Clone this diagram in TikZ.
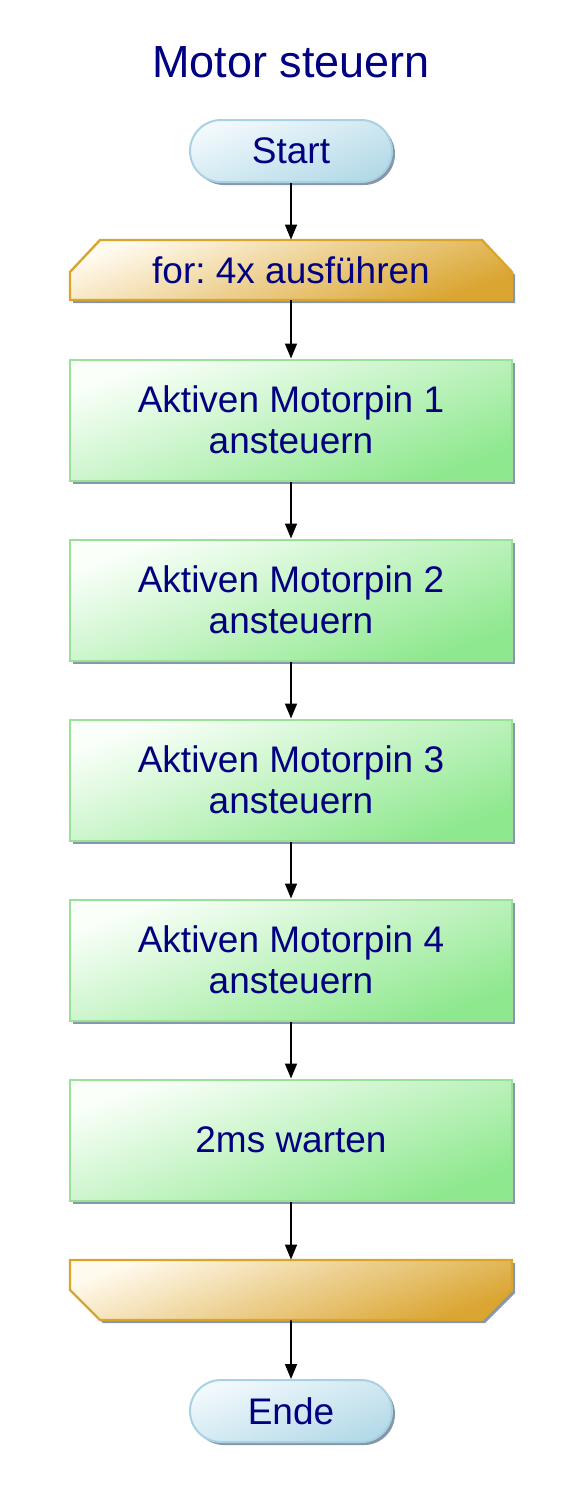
\documentclass[tikz,border=0pt]{standalone}
\usepackage{fontspec}
\setmainfont{Liberation Sans}
\usetikzlibrary{shapes.misc,shadows,arrows.meta}
\frenchspacing

\definecolor{textblue}{HTML}{000080}
\definecolor{shadowcol}{HTML}{8796AA}
\definecolor{termline}{HTML}{A8D2E2}
\definecolor{termlight}{HTML}{F2F9FC}
\definecolor{termdark}{HTML}{B4DAE8}
\definecolor{loopline}{HTML}{D9A52A}
\definecolor{looplight}{HTML}{FFFAEE}
\definecolor{loopdark}{HTML}{DAA530}
\definecolor{procline}{HTML}{98E298}
\definecolor{proclight}{HTML}{FAFFFA}
\definecolor{procdark}{HTML}{8EE88E}

\tikzset{
  boxshadow/.style={drop shadow={shadow xshift=1.5pt,shadow yshift=-1.5pt,fill=shadowcol,opacity=1}},
  shaded/.style 2 args={shading=axis,top color=#1,bottom color=#2,shading angle=20},
  terminal/.style={rounded rectangle,draw=termline,line width=1pt,boxshadow,
    shaded={termlight}{termdark},minimum width=101pt,minimum height=31pt,inner sep=0pt},
  loopshape/.style={draw=loopline,line width=1.2pt,boxshadow,shaded={looplight}{loopdark}},
  loopbox/.style={rectangle,minimum width=221pt,minimum height=30pt,inner sep=0pt},
  process/.style={rectangle,draw=procline,line width=1pt,boxshadow,
    shaded={proclight}{procdark},minimum width=221pt,minimum height=60.5pt,
    inner sep=0pt,align=center},
  flow/.style={line width=0.8pt,-{Triangle[length=7.5pt,width=6pt]}}
}

\begin{document}
\begin{tikzpicture}[x=0.5pt,y=-0.5pt,font=\fontsize{18.5pt}{20.5pt}\selectfont,text=textblue]
  \useasboundingbox (0,0) rectangle (580,1501);

  \node (title) at (291,62) {\fontsize{22.5pt}{24pt}\selectfont Motor steuern};

  % loop shapes
  \path[loopshape] (70,300) -- (70,272) -- (100,240) -- (482,240) -- (512,272) -- (512,300) -- cycle;
  \path[loopshape] (70,1260) -- (512,1260) -- (512,1290) -- (482,1320) -- (100,1320) -- (70,1290) -- cycle;

  \node[terminal] (start) at (291,151) {Start};
  \node[loopbox] (loop) at (291,270) {for: 4x ausführen};
  \node[process] (pin1) at (291,420) {Aktiven Motorpin 1\\ansteuern};
  \node[process] (pin2) at (291,600) {Aktiven Motorpin 2\\ansteuern};
  \node[process] (pin3) at (291,780) {Aktiven Motorpin 3\\ansteuern};
  \node[process] (pin4) at (291,960) {Aktiven Motorpin 4\\ansteuern};
  \node[process] (wait) at (291,1140) {2ms warten};
  \node[loopbox] (loopend) at (291,1290) {};
  \node[terminal] (ende) at (291,1411) {Ende};

  \draw[flow] (start) -- (loop);
  \draw[flow] (loop) -- (pin1);
  \draw[flow] (pin1) -- (pin2);
  \draw[flow] (pin2) -- (pin3);
  \draw[flow] (pin3) -- (pin4);
  \draw[flow] (pin4) -- (wait);
  \draw[flow] (wait) -- (loopend);
  \draw[flow] (loopend) -- (ende);
\end{tikzpicture}
\end{document}
